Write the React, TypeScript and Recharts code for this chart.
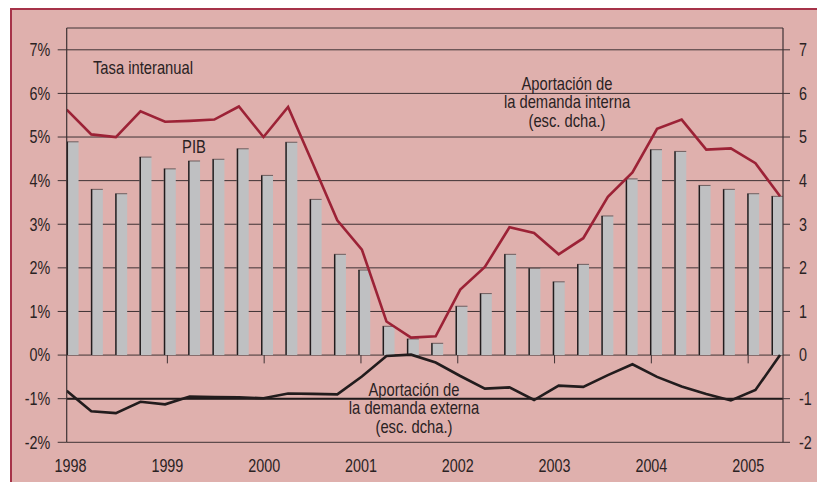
import React from 'react';
import { ComposedChart, Bar, Line, XAxis, YAxis, CartesianGrid, ReferenceLine } from 'recharts';

// Trimestres 1998-T1 .. 2005-T2
const years = [1998, 1999, 2000, 2001, 2002, 2003, 2004, 2005];
const yTicks = [-2, -1, 0, 1, 2, 3, 4, 5, 6, 7];

// PIB, tasa interanual (%)
const pib = [
  4.89, 3.8, 3.7, 4.54, 4.27, 4.45, 4.49, 4.73, 4.12, 4.88,
  3.57, 2.31, 1.95, 0.66, 0.37, 0.27, 1.12, 1.41, 2.31, 1.99,
  1.68, 2.08, 3.19, 4.04, 4.71, 4.67, 3.89, 3.8, 3.7, 3.64,
];
// Aportación de la demanda interna (esc. dcha.)
const demandaInterna = [
  5.63, 5.06, 5.0, 5.59, 5.35, 5.37, 5.4, 5.7, 5.0, 5.69,
  4.4, 3.09, 2.42, 0.77, 0.4, 0.43, 1.5, 2.02, 2.93, 2.8,
  2.31, 2.68, 3.63, 4.19, 5.19, 5.4, 4.71, 4.74, 4.4, 3.64,
];
// Aportación de la demanda externa (esc. dcha.)
const demandaExterna = [
  -0.82, -1.29, -1.33, -1.07, -1.13, -0.95, -0.96, -0.97, -0.99, -0.88,
  -0.89, -0.9, -0.49, -0.02, 0.01, -0.17, -0.48, -0.77, -0.74, -1.03,
  -0.7, -0.73, -0.46, -0.21, -0.5, -0.72, -0.89, -1.04, -0.8, 0,
];

const data = pib.map((v, i) => ({
  i,
  pib: v,
  interna: demandaInterna[i],
  externa: demandaExterna[i],
}));

const FONT = "'Liberation Sans', Arial, sans-serif";
const INK = '#2a2223';
const GRID = '#3e3234';
const NARROW = 0.82; // tipografía estrecha

// texto estrecho (Liberation Sans comprimida en horizontal)
const NarrowText = ({ x, y, anchor = 'start', size = 18, dy, children }: any) => (
  <text
    transform={`translate(${x},${y}) scale(${NARROW},1)`}
    textAnchor={anchor} dy={dy}
    fontFamily={FONT} fontSize={size} fill={INK}
  >
    {children}
  </text>
);

const LeftTick = ({ x, y, payload }: any) => (
  <NarrowText x={x} y={y} anchor="end" size={17.5} dy="0.36em">{`${payload.value}%`}</NarrowText>
);
const RightTick = ({ x, y, payload }: any) => (
  <NarrowText x={x} y={y} anchor="start" size={17.5} dy="0.36em">{String(payload.value)}</NarrowText>
);
const YearTick = ({ x, y, payload }: any) => (
  <NarrowText x={x} y={y} anchor="middle" size={17.5} dy="0.71em">{String(payload.value)}</NarrowText>
);

// barra gris con el canto izquierdo oscuro
const PibBar = (props: any) => {
  const { x, y, width, height } = props;
  if (height == null || height <= 0) return null;
  return (
    <g>
      <rect x={x} y={y} width={width} height={height} fill="#bfc0c2" />
      <line x1={x} y1={y} x2={x + width} y2={y} stroke="#6e5e5f" strokeWidth={1} />
      <line x1={x + 0.75} y1={y} x2={x + 0.75} y2={y + height} stroke="#231c1d" strokeWidth={1.5} />
    </g>
  );
};

export default function App() {
  return (
    <div style={{ position: 'absolute', left: 0, top: 0, width: 817, height: 482, background: '#fff', overflow: 'hidden' }}>
      <div
        style={{
          position: 'absolute', left: 10, top: 7.5, width: 807, height: 475,
          background: '#dfb0ad', borderTop: '2.5px solid #a63349', borderLeft: '2.5px solid #a63349',
          boxSizing: 'border-box',
        }}
      />
      <div style={{ position: 'absolute', left: 0, top: 0 }}>
        <ComposedChart width={817} height={482} data={data} margin={{ top: 28, right: 0, bottom: 9.7, left: 6.7 }}>
          <CartesianGrid xAxisId="line" yAxisId="left" vertical={false} stroke={GRID} strokeWidth={1} />
          <XAxis
            xAxisId="year" dataKey="i" type="number" domain={[1997.96, 2005.36]} allowDataOverflow
            ticks={years} interval={0}
            axisLine={false} tickLine={false} tickSize={0} tickMargin={17.4} height={30}
            tick={YearTick}
          />
          <XAxis xAxisId="bar" dataKey="i" type="number" domain={[-0.247, 29.22]} allowDataOverflow hide height={0} />
          <XAxis xAxisId="line" dataKey="i" type="number" domain={[0, 29.12]} allowDataOverflow hide height={0} />
          <YAxis
            yAxisId="left" domain={[-2, 7.5]} ticks={yTicks} interval={0} width={60}
            tickSize={9} tickMargin={7.5}
            axisLine={{ stroke: GRID, strokeWidth: 1.2 }} tickLine={{ stroke: GRID, strokeWidth: 1 }}
            tick={LeftTick}
          />
          <YAxis
            yAxisId="right" orientation="right" domain={[-2, 7.5]} ticks={yTicks} interval={0} width={34}
            tickSize={7} tickMargin={9}
            axisLine={{ stroke: GRID, strokeWidth: 1.2 }} tickLine={{ stroke: GRID, strokeWidth: 1 }}
            tick={RightTick}
          />
          <ReferenceLine xAxisId="line" yAxisId="left" y={-1} stroke="#1f1a1b" strokeWidth={2} />
          {years.slice(1).map((yr) => (
            <ReferenceLine
              key={yr} xAxisId="year" yAxisId="left"
              segment={[{ x: yr, y: 0 }, { x: yr, y: -0.19 }]}
              stroke={GRID} strokeWidth={1}
            />
          ))}
          <Bar xAxisId="bar" yAxisId="left" dataKey="pib" barSize={12} shape={PibBar} isAnimationActive={false} />
          <Line
            xAxisId="line" yAxisId="right" dataKey="interna" type="linear" stroke="#9c2236" strokeWidth={2.6}
            dot={false} activeDot={false} isAnimationActive={false}
          />
          <Line
            xAxisId="line" yAxisId="right" dataKey="externa" type="linear" stroke="#221c1d" strokeWidth={2.6}
            dot={false} activeDot={false} isAnimationActive={false}
          />
        </ComposedChart>
      </div>
      <svg width={817} height={482} style={{ position: 'absolute', left: 0, top: 0, pointerEvents: 'none' }}>
        <NarrowText x={93} y={74}>Tasa interanual</NarrowText>
        <NarrowText x={194} y={152.5} anchor="middle">PIB</NarrowText>
        <NarrowText x={567} y={89.5} anchor="middle">Aportación de</NarrowText>
        <NarrowText x={567} y={108} anchor="middle">la demanda interna</NarrowText>
        <NarrowText x={567} y={126.5} anchor="middle">(esc. dcha.)</NarrowText>
        <NarrowText x={414} y={395.5} anchor="middle">Aportación de</NarrowText>
        <NarrowText x={414} y={414} anchor="middle">la demanda externa</NarrowText>
        <NarrowText x={414} y={432.5} anchor="middle">(esc. dcha.)</NarrowText>
      </svg>
    </div>
  );
}
